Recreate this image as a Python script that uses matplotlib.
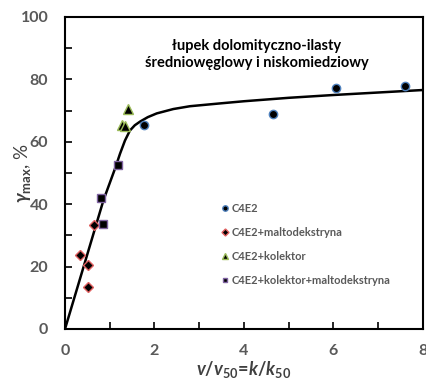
import matplotlib
matplotlib.use("Agg")
import matplotlib.pyplot as plt
from matplotlib.ticker import MultipleLocator

plt.rcParams['font.family'] = ['Lato', 'DejaVu Sans']
plt.rcParams['font.weight'] = 'bold'
plt.rcParams['mathtext.fontset'] = 'custom'
plt.rcParams['mathtext.it'] = 'Lato:italic:bold'
plt.rcParams['mathtext.rm'] = 'Lato:bold'
plt.rcParams['mathtext.bf'] = 'Lato:bold'
plt.rcParams['mathtext.fallback'] = 'stixsans'

# Data
c4e2_x = [1.77, 4.64, 6.05, 7.60]
c4e2_y = [65.4, 68.8, 77.2, 77.8]

malto_x = [0.34, 0.52, 0.52, 0.65]
malto_y = [23.6, 20.5, 13.6, 33.4]

kol_x = [1.28, 1.34, 1.40]
kol_y = [65.4, 65.0, 70.6]

kolmalto_x = [0.80, 0.84, 1.18]
kolmalto_y = [42.1, 33.6, 52.6]

curve_x = [0.0, 0.5, 0.86, 1.12, 1.23, 1.34, 1.45, 1.56, 1.68, 1.85, 2.05, 2.42, 2.79, 3.46, 4.0, 5.0, 6.0, 7.0, 8.0]
curve_y = [0.0, 24.0, 41.3, 51.5, 56.2, 60.4, 63.6, 65.3, 66.5, 67.9, 69.1, 70.5, 71.4, 72.3, 73.0, 74.1, 75.0, 75.8, 76.6]

series_labels = ["C4E2", "C4E2+maltodekstryna", "C4E2+kolektor", "C4E2+kolektor+maltodekstryna"]
title_text = "łupek dolomityczno-ilasty\nśredniowęglowy i niskomiedziowy"

fig = plt.figure(figsize=(4.27, 3.82), dpi=100)
ax = fig.add_axes([65/427, 1-329/382, (423-65)/427, (329-17)/382])

ax.plot(curve_x, curve_y, color='black', lw=1.8, zorder=2)

ms = 6
h1, = ax.plot(c4e2_x, c4e2_y, 'o', ms=ms, mfc='black', mec='#4f81bd', mew=1.0, zorder=3)
h2, = ax.plot(malto_x, malto_y, 'D', ms=ms-0.5, mfc='black', mec='#e06060', mew=1.0, zorder=3)
h3, = ax.plot(kol_x, kol_y, '^', ms=ms+1, mfc='black', mec='#9bbb59', mew=1.0, zorder=3)
h4, = ax.plot(kolmalto_x, kolmalto_y, 's', ms=ms-0.5, mfc='black', mec='#8064a2', mew=1.0, zorder=3)

ax.set_xlim(0, 8)
ax.set_ylim(0, 100)
ax.xaxis.set_major_locator(MultipleLocator(2))
ax.xaxis.set_minor_locator(MultipleLocator(1))
ax.yaxis.set_major_locator(MultipleLocator(20))
ax.yaxis.set_minor_locator(MultipleLocator(10))
ax.tick_params(which='both', direction='in', color='black', width=1.2)
ax.tick_params(which='major', length=5, labelsize=11.5, labelcolor='#595959')
ax.tick_params(axis='x', which='major', pad=11)
ax.tick_params(axis='y', which='major', pad=12)
ax.tick_params(which='minor', length=5)
for s in ax.spines.values():
    s.set_linewidth(1.5)

ax.set_xlabel(r"$v/v_{50}\!=\!k/k_{50}$", fontsize=13, color='#404040')
ax.xaxis.set_label_coords(0.5, -0.095)
ax.set_ylabel(r"$\gamma_{\mathrm{max}}$, %", fontsize=13.5, color='#404040')
ax.yaxis.set_label_coords(-0.09, 0.5)

ax.text(0.535, 0.88, title_text, transform=ax.transAxes, ha='center', va='center',
        fontsize=10.5, fontweight='bold', color='black', linespacing=1.3)

leg = ax.legend([h1, h2, h3, h4], series_labels, loc='upper left',
                bbox_to_anchor=(0.437, 0.403), frameon=False, fontsize=8,
                handlelength=0.6, handletextpad=0.3, labelspacing=1.15, markerscale=0.65,
                borderpad=0, borderaxespad=0)
for t in leg.get_texts():
    t.set_color('#595959')

fig.savefig("out.png", dpi=100)
